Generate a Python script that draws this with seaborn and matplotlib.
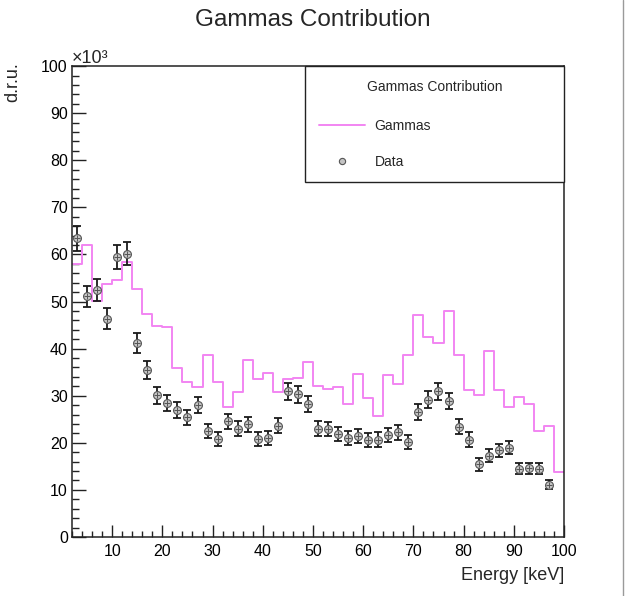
import numpy as np
import pandas as pd
import matplotlib
matplotlib.use("Agg")
import matplotlib.pyplot as plt
import seaborn as sns
from matplotlib.lines import Line2D
from matplotlib.ticker import MultipleLocator

# Binning of the energy spectrum (keV)
bin_edges = list(range(2, 101, 2))

# Simulated gamma contribution per 2 keV bin (units of 10^3 d.r.u.)
gammas = [57.9, 62.0, 50.1, 53.8, 54.6, 58.4, 52.7, 47.4, 44.9, 44.7,
          35.9, 33.0, 31.9, 38.7, 33.0, 27.6, 30.7, 37.6, 33.5, 34.8,
          30.7, 33.5, 33.8, 37.1, 32.0, 31.4, 31.8, 28.2, 34.6, 29.6,
          25.7, 34.3, 32.5, 38.7, 47.1, 42.5, 41.2, 48.1, 38.7, 31.2,
          30.1, 39.4, 31.2, 27.7, 29.8, 28.3, 22.5, 23.6, 13.7]

# Measured data points (bin centres, values and uncertainties, 10^3 d.r.u.)
data_energy = list(range(3, 98, 2))
data_counts = [63.4, 51.1, 52.5, 46.4, 59.5, 60.2, 41.2, 35.5, 30.1, 28.5,
               26.9, 25.4, 28.0, 22.5, 20.9, 24.6, 23.0, 23.9, 20.9, 21.1,
               23.6, 31.0, 30.3, 28.2, 23.0, 22.9, 21.9, 21.1, 21.4, 20.6,
               20.7, 21.6, 22.2, 20.2, 26.6, 29.2, 31.0, 28.9, 23.4, 20.7,
               15.4, 17.3, 18.4, 19.0, 14.5, 14.6, 14.5, 11.1]
data_err = [2.6, 2.3, 2.3, 2.2, 2.5, 2.5, 2.1, 1.9, 1.8, 1.7,
            1.7, 1.6, 1.7, 1.5, 1.5, 1.6, 1.6, 1.6, 1.5, 1.5,
            1.6, 1.8, 1.8, 1.7, 1.6, 1.5, 1.5, 1.5, 1.5, 1.5,
            1.5, 1.5, 1.5, 1.5, 1.7, 1.8, 1.8, 1.7, 1.6, 1.5,
            1.3, 1.4, 1.4, 1.4, 1.2, 1.2, 1.2, 1.0]

sns.set_theme(style="ticks")
plt.rcParams['font.family'] = ['Liberation Sans', 'DejaVu Sans']

HIST_COLOR = '#f285f2'
AXIS_COLOR = '#222222'

fig = plt.figure(figsize=(6.25, 5.96), dpi=100)
ax = fig.add_axes([0.1152, 0.099, 0.7872, 0.790])

# Gamma contribution drawn as a step histogram
centers = [(a + b) / 2 for a, b in zip(bin_edges[:-1], bin_edges[1:])]
hist_df = pd.DataFrame({'energy': centers, 'counts': gammas})
sns.histplot(data=hist_df, x='energy', weights='counts', bins=bin_edges,
             element='step', fill=False, color=HIST_COLOR, linewidth=1.4,
             ax=ax, zorder=2)

# Data points with error bars
ax.errorbar(data_energy, data_counts, yerr=data_err, fmt='none',
            ecolor='#1a1a1a', elinewidth=1.3, capsize=2.8, capthick=1.3,
            zorder=3)
data_df = pd.DataFrame({'energy': data_energy, 'counts': data_counts})
sns.scatterplot(data=data_df, x='energy', y='counts', marker='o', s=32,
                color='#c4c4c4', edgecolor='#555555', linewidth=0.8,
                ax=ax, zorder=4, legend=False)
ax.plot(data_energy, data_counts, ls='none', marker='+', ms=5,
        mec='#555555', mew=0.7, zorder=5)

# Axes ranges and ticks
ax.set_xlim(2, 100)
ax.set_ylim(0, 100)
ax.xaxis.set_major_locator(MultipleLocator(10))
ax.xaxis.set_minor_locator(MultipleLocator(2))
ax.yaxis.set_major_locator(MultipleLocator(10))
ax.yaxis.set_minor_locator(MultipleLocator(2))
ax.tick_params(axis='x', which='major', direction='in', length=8.6,
               width=1.0, color=AXIS_COLOR, labelsize=11.5, pad=5,
               labelcolor='black')
ax.tick_params(axis='x', which='minor', direction='in', length=4.3,
               width=1.0, color=AXIS_COLOR)
ax.tick_params(axis='y', which='major', direction='in', length=10,
               width=1.0, color=AXIS_COLOR, labelsize=11.5, pad=3,
               labelcolor='black')
ax.tick_params(axis='y', which='minor', direction='in', length=5,
               width=1.0, color=AXIS_COLOR)
for side in ['top', 'right', 'bottom', 'left']:
    ax.spines[side].set_visible(True)
    ax.spines[side].set_color(AXIS_COLOR)
    ax.spines[side].set_linewidth(1.1)

ax.set_xlabel('Energy [keV]', loc='right', fontsize=13)
ax.xaxis.set_label_coords(1.0, -0.064)
ax.xaxis.label.set_va('top')
ax.set_ylabel('d.r.u.', loc='top', fontsize=13)
ax.yaxis.set_label_coords(-0.104, 1.008)

ax.text(0.0, 0.998, '×10³', transform=ax.transAxes, ha='left', va='bottom',
        fontsize=13)

fig.suptitle('Gammas Contribution', x=0.5, y=0.985, fontsize=17.5,
             va='top')

# Legend box in the upper right corner
handles = [Line2D([], [], color=HIST_COLOR, lw=1.4),
           Line2D([], [], ls='none', marker='o', ms=4.5, mfc='#c4c4c4',
                  mec='#555555', mew=0.8)]
leg = ax.legend(handles, ['Gammas', 'Data'], title='Gammas Contribution',
                loc='upper left', bbox_to_anchor=(0.4736, 0.7516, 0.5264, 0.2484),
                mode='expand', borderaxespad=0, fontsize=10,
                title_fontsize=10, labelspacing=1.55, borderpad=1.0,
                handlelength=3.3, handletextpad=0.7, fancybox=False,
                framealpha=1, edgecolor=AXIS_COLOR)
leg.get_frame().set_linewidth(1.0)
leg._legend_box.sep = 18

# Canvas edge line
fig.add_artist(Line2D([0.996, 0.996], [0, 1], transform=fig.transFigure,
                      color='#9a9a9a', lw=1.0))

fig.savefig('out.png', dpi=100)
